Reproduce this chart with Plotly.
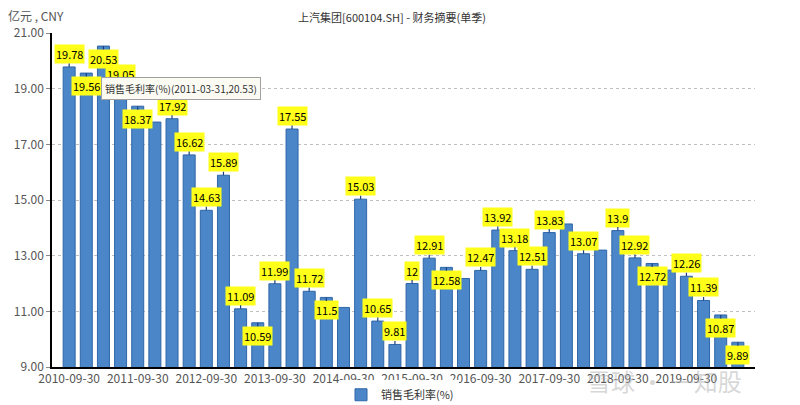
import plotly.graph_objects as go

# quarterly gross margin, 上汽集团
quarters = [
    "2010-09-30", "2010-12-31", "2011-03-31", "2011-06-30",
    "2011-09-30", "2011-12-31", "2012-03-31", "2012-06-30",
    "2012-09-30", "2012-12-31", "2013-03-31", "2013-06-30",
    "2013-09-30", "2013-12-31", "2014-03-31", "2014-06-30",
    "2014-09-30", "2014-12-31", "2015-03-31", "2015-06-30",
    "2015-09-30", "2015-12-31", "2016-03-31", "2016-06-30",
    "2016-09-30", "2016-12-31", "2017-03-31", "2017-06-30",
    "2017-09-30", "2017-12-31", "2018-03-31", "2018-06-30",
    "2018-09-30", "2018-12-31", "2019-03-31", "2019-06-30",
    "2019-09-30", "2019-12-31", "2020-03-31", "2020-06-30",
]
margin_pct = [
    19.78, 19.56, 20.53, 19.05,
    18.37, 17.80, 17.92, 16.62,
    14.63, 15.89, 11.09, 10.59,
    11.99, 17.55, 11.72, 11.50,
    11.14, 15.03, 10.65, 9.81,
    12.00, 12.91, 12.58, 12.18,
    12.47, 13.92, 13.18, 12.51,
    13.83, 14.14, 13.07, 13.20,
    13.90, 12.92, 12.72, 12.48,
    12.26, 11.39, 10.87, 9.89,
]
# where the chart put each data label (None = hidden by overlap)
label_side = [
    "up", "down", "down", "up",
    "down", None, "up", "up",
    "up", "up", "up", "down",
    "up", "up", "up", "down",
    None, "up", "up", "up",
    "up", "up", "down", None,
    "up", "up", "up", "up",
    "up", None, "up", None,
    "up", "up", "down", None,
    "up", "up", "down", "down",
]
tick_dates = quarters[0::4]
y_ticks = [9, 11, 13, 15, 17, 19, 21]

FONT = "Noto Sans CJK SC, Noto Sans, sans-serif"

fig = go.Figure()

fig.add_trace(go.Bar(
    x=quarters,
    y=margin_pct,
    name="销售毛利率(%)",
    width=0.7,
    marker=dict(color="#4a86c8", line=dict(color="#2f66a8", width=1)),
))

for q, v, side in zip(quarters, margin_pct, label_side):
    if side is None:
        continue
    fig.add_annotation(
        x=q, y=v,
        text=f"{v:g}",
        showarrow=True,
        arrowhead=0,
        arrowwidth=1.2,
        arrowcolor="#1c3f80",
        standoff=0,
        ax=0,
        ay=-13 if side == "up" else 13,
        bgcolor="#ffff1a",
        borderpad=1,
        font=dict(family=FONT, size=11, color="#000000"),
    )

# hover tooltip frozen in the screenshot
fig.add_annotation(
    xref="paper", yref="paper",
    x=0.069, y=0.835,
    xanchor="left", yanchor="middle",
    text="销售毛利率(%)(2011-03-31,20.53)",
    showarrow=False,
    bgcolor="#fbfbf4",
    bordercolor="#a0a0a0",
    borderwidth=1,
    borderpad=3,
    font=dict(family=FONT, size=10, color="#333333"),
)

fig.add_annotation(
    xref="paper", yref="paper",
    x=-0.065, y=1.052,
    xanchor="left", yanchor="middle",
    text="亿元 , CNY",
    showarrow=False,
    font=dict(family=FONT, size=12, color="#555555"),
)

# watermark
fig.add_annotation(
    xref="paper", yref="paper",
    x=0.985, y=-0.04,
    xanchor="right", yanchor="middle",
    text="雪球 · 一知股",
    showarrow=False,
    font=dict(family=FONT, size=24, color="rgba(175,175,175,0.5)"),
)

fig.update_layout(
    title=dict(
        text="上汽集团[600104.SH] - 财务摘要(单季)",
        x=0.48, xanchor="center", y=0.976, yanchor="middle",
        font=dict(family=FONT, size=11, color="#333333"),
    ),
    width=800,
    height=405,
    margin=dict(l=44, r=53, t=25, b=46),
    plot_bgcolor="white",
    paper_bgcolor="white",
    font=dict(family=FONT, size=12, color="#555555"),
    showlegend=True,
    legend=dict(
        orientation="h",
        xref="container", yref="container",
        x=0.49, xanchor="center",
        y=0.045, yanchor="middle",
        font=dict(family=FONT, size=11, color="#333333"),
    ),
    xaxis=dict(
        type="category",
        range=[-1, 40],
        tickvals=tick_dates,
        ticktext=tick_dates,
        tickangle=0,
        automargin=False,
        showgrid=False,
        showline=True,
        linecolor="#000000",
        linewidth=1.5,
        ticks="",
        tickfont=dict(family=FONT, size=12, color="#555555"),
    ),
    yaxis=dict(
        range=[9, 21],
        tickvals=y_ticks,
        tickformat=".2f",
        automargin=False,
        showgrid=True,
        gridcolor="#c0c0c0",
        griddash="dot",
        gridwidth=1,
        showline=True,
        linecolor="#000000",
        linewidth=1.5,
        zeroline=False,
        ticks="outside",
        ticklen=4,
        tickcolor="#888888",
        tickfont=dict(family=FONT, size=12, color="#555555"),
    ),
)

fig.write_html("out.html")
